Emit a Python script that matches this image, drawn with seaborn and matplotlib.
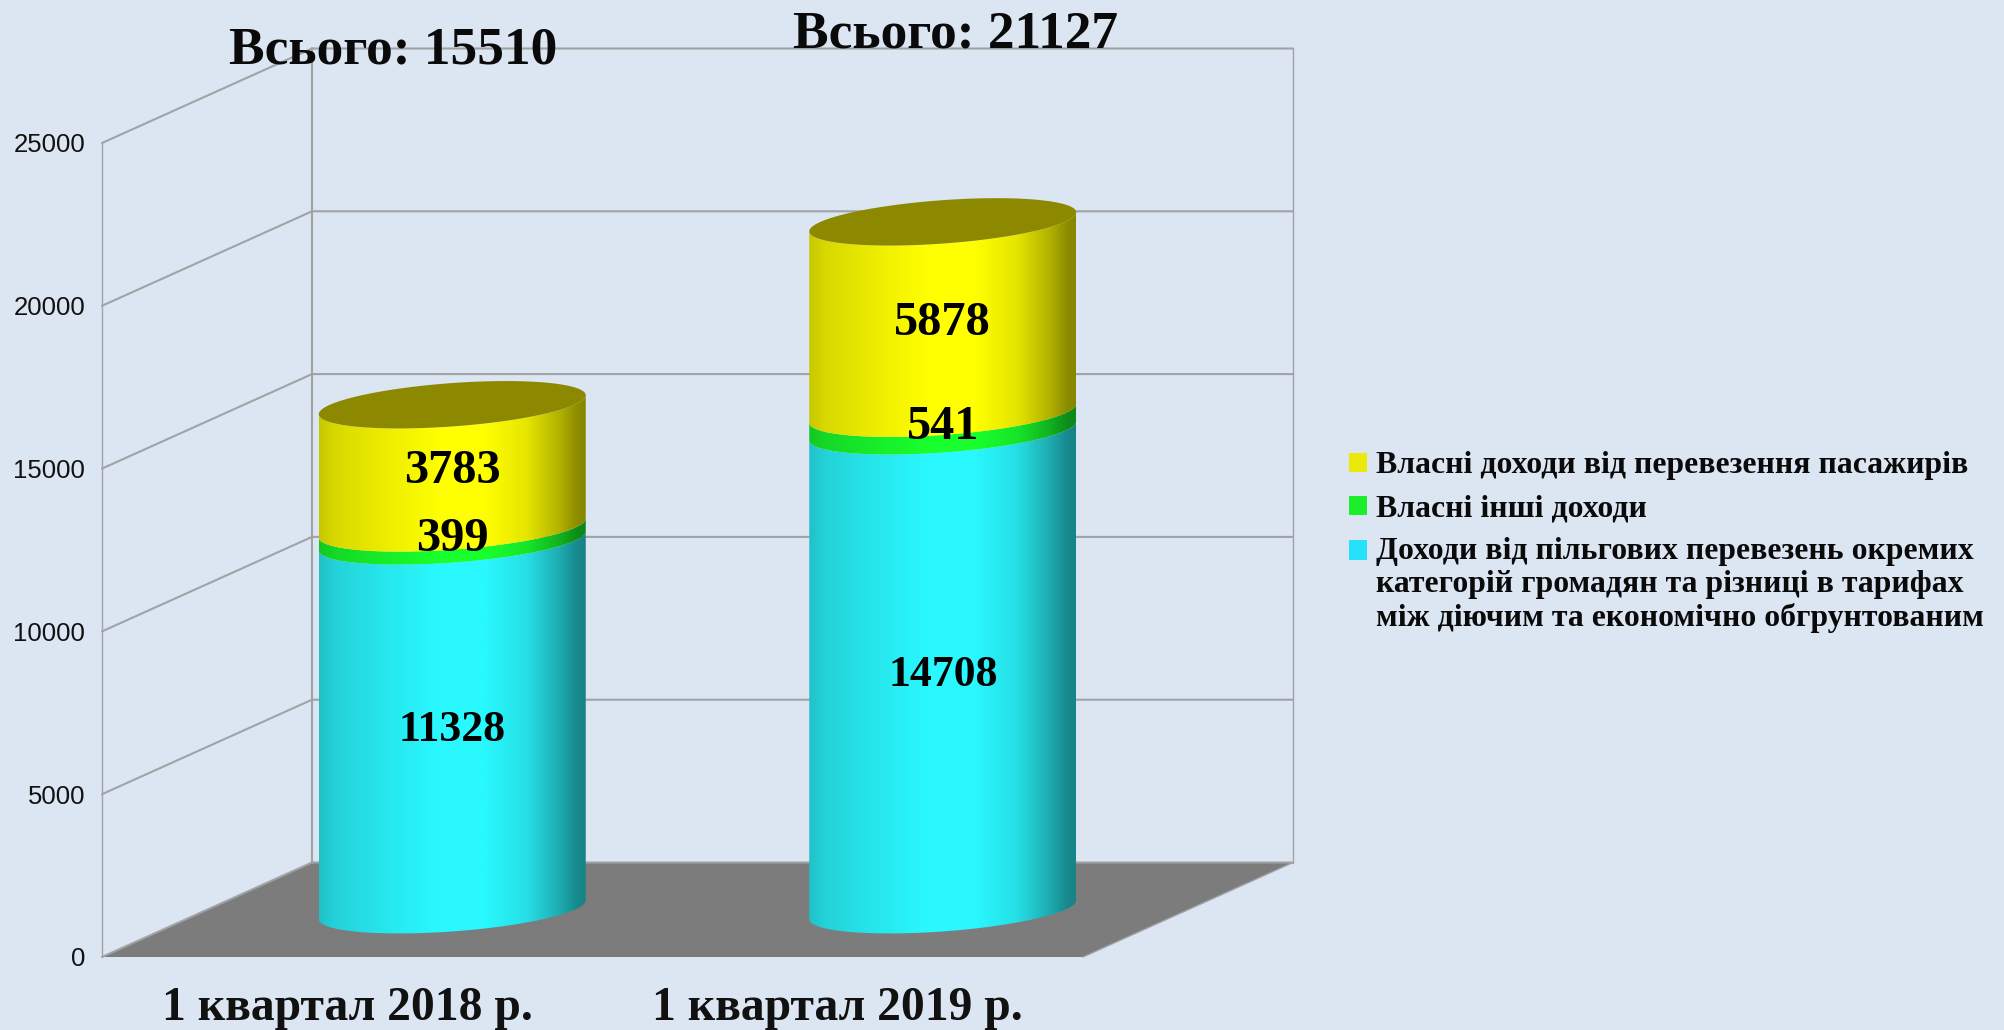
import numpy as np
import pandas as pd
import matplotlib
matplotlib.use("Agg")
import matplotlib.pyplot as plt
from matplotlib.patches import Patch, Polygon
from matplotlib.path import Path
import seaborn as sns

quarters = ["1 квартал 2018 р.", "1 квартал 2019 р."]
concession = [11328, 14708]
other_own = [399, 541]
passenger_own = [3783, 5878]
totals = [15510, 21127]
y_ticks = [0, 5000, 10000, 15000, 20000, 25000]
legend_labels = [
    "Власні доходи від перевезення пасажирів",
    "Власні інші доходи",
    "Доходи від пільгових перевезень окремих\nкатегорій громадян та різниці в тарифах\nміж діючим та економічно обгрунтованим",
]

W, H = 2004, 1030
BG = "#dce6f2"
GRID = "#a0a2a6"
SERIF = "Liberation Serif"

# pixel box of the front plane and the fake 3D depth
left_px, right_px = 102, 1083
top_px, bottom_px = 143, 957
depth_dx, depth_dy = 210, 94.5
ymax = 25000
px_per_unit = (bottom_px - top_px) / ymax
px_per_cat = (right_px - left_px) / 2


def axes_rect(x0, x1, y_top, y_bottom):
    return [x0 / W, 1 - y_bottom / H, (x1 - x0) / W, (y_bottom - y_top) / H]


sns.set_theme(style="white")
plt.rcParams["font.family"] = ["Liberation Sans", "DejaVu Sans"]

fig = plt.figure(figsize=(W / 100, H / 100), dpi=100, facecolor=BG)
ax = fig.add_axes(axes_rect(left_px, right_px, top_px, bottom_px), facecolor="none")
ax.set_xlim(-0.5, 1.5)
ax.set_ylim(0, ymax)

dx = depth_dx / px_per_cat
dy = depth_dy / px_per_unit

# floor
ax.add_patch(Polygon([(-0.5, 0), (1.5, 0), (1.5 + dx, dy), (-0.5 + dx, dy)],
                     closed=True, facecolor="#7c7c7c", edgecolor="none", clip_on=False, zorder=1))

# walls and grid
for v in y_ticks:
    ax.plot([-0.5, -0.5 + dx, 1.5 + dx], [v, v + dy, v + dy], color=GRID,
            lw=1.5, clip_on=False, zorder=2, solid_joinstyle="miter")
ax.plot([-0.5, -0.5], [0, ymax], color=GRID, lw=1, clip_on=False, zorder=2)
ax.plot([-0.5 + dx, -0.5 + dx], [dy, ymax + dy], color=GRID, lw=1.5, clip_on=False, zorder=2)
ax.plot([1.5 + dx, 1.5 + dx], [dy, ymax + dy], color=GRID, lw=1, clip_on=False, zorder=2)
ax.plot([1.5, 1.5 + dx], [0, dy], color=GRID, lw=1, clip_on=False, zorder=2)

sns.despine(ax=ax, left=True, bottom=True)
ax.set_yticks(y_ticks)
ax.set_yticklabels([str(v) for v in y_ticks], fontsize=18.5, color="#111111")
ax.set_xticks([0, 1])
ax.set_xticklabels(quarters, fontsize=34.3, fontweight="bold", family=SERIF, color="#111111")
ax.tick_params(axis="y", length=0, pad=12)
ax.tick_params(axis="x", length=0, pad=21)

# cylinders sit half way into the depth
ax_bars = fig.add_axes(axes_rect(left_px + depth_dx / 2, right_px + depth_dx / 2,
                                 top_px - depth_dy / 2, bottom_px - depth_dy / 2),
                       facecolor="none")
df = pd.DataFrame({"quarter": quarters, "concession": concession,
                   "other": other_own, "passenger": passenger_own})

series = [("concession", (42, 248, 255), "#25e2fa", 31.5),
          ("other", (25, 255, 45), "#1bee2a", 34.8),
          ("passenger", (255, 255, 0), "#ebe80a", 34.8)]
bottoms = np.zeros(len(quarters))
for name, *_ in series:
    sns.barplot(data=df, x="quarter", y=name, bottom=bottoms, width=267 / px_per_cat,
                color="white", saturation=1, errorbar=None, ax=ax_bars)
    bottoms = bottoms + df[name].to_numpy()

ax_bars.set_xlim(-0.5, 1.5)
ax_bars.set_ylim(0, ymax)
ax_bars.set_axis_off()

# tilted ellipse of the cylinder caps, in data units
cap_b = 21.7 / px_per_unit
cap_s = 9.5 / px_per_unit
stops = [0, 0.06, 0.25, 0.45, 0.62, 0.78, 0.9, 0.97, 1]
shade = [0.78, 0.85, 0.93, 1, 1, 0.9, 0.7, 0.55, 0.53]
shade_x = np.linspace(0, 1, 256)
shade_y = np.interp(shade_x, stops, shade)
t_front = np.linspace(np.pi, 2 * np.pi, 80)


def cap_arc(x, w, level, t):
    return x + w / 2 + w / 2 * np.cos(t), level + cap_s * np.cos(t) + cap_b * np.sin(t)


for (name, base, _, label_size), container in zip(series, ax_bars.containers):
    img = np.zeros((1, 256, 3))
    for c in range(3):
        img[0, :, c] = base[c] / 255 * shade_y
    for bar in container:
        x, w = bar.get_x(), bar.get_width()
        y0, y1 = bar.get_y(), bar.get_y() + bar.get_height()
        bar.set_visible(False)
        xt, yt = cap_arc(x, w, y1, t_front)
        xb, yb = cap_arc(x, w, y0, t_front[::-1])
        verts = np.column_stack([np.r_[xt, xb], np.r_[yt, yb]])
        im = ax_bars.imshow(img, extent=[x, x + w, y0 - 2 * cap_b, y1 + 2 * cap_b],
                            aspect="auto", interpolation="bilinear", zorder=3)
        im.set_clip_box(fig.bbox)
        im.set_clip_path(Path(np.r_[verts, verts[:1]], closed=True), transform=ax_bars.transData)
        if name == "passenger":
            t_all = np.linspace(0, 2 * np.pi, 160)
            xc, yc = cap_arc(x, w, y1, t_all)
            ax_bars.fill(xc, yc, color="#8c8900", lw=0, clip_on=False, zorder=4)

    labels = ax_bars.bar_label(container, label_type="center", fontsize=label_size, fontweight="bold",
                               family=SERIF, color="black", zorder=6)
    for lab in labels:
        lab.set_visible(True)
        lab.set_zorder(6)
        lab.xyann = (0, -3.6)

ax_bars.set_xlim(-0.5, 1.5)
ax_bars.set_ylim(0, ymax)

# totals over the columns
for total, x_px, y_px in zip(totals, [393, 955.5], [51, 34]):
    fig.text(x_px / W, 1 - y_px / H, f"Всього: {total}", ha="center", va="center",
             fontsize=38.4, fontweight="bold", family=SERIF, color="#0a0a0a")

handles = [Patch(facecolor=s[2], edgecolor="none") for s in reversed(series)]
leg = fig.legend(handles, legend_labels, loc="upper left",
                 bbox_to_anchor=(1349 / W, 1 - 451.5 / H), frameon=False,
                 prop={"family": SERIF, "weight": "bold", "size": 22.9},
                 handlelength=0.56, handleheight=0.56, handletextpad=0.28, labelspacing=0.44,
                 borderpad=0, borderaxespad=0)
for text in leg.get_texts():
    text.set_color("#0a0a0a")
    text.set_linespacing(1.16)
# the original keeps the square on the first line of the long label
leg.legend_handles[2].set_y(leg.legend_handles[2].get_y() + 25)

fig.savefig("out.png", dpi=100, facecolor=BG)
